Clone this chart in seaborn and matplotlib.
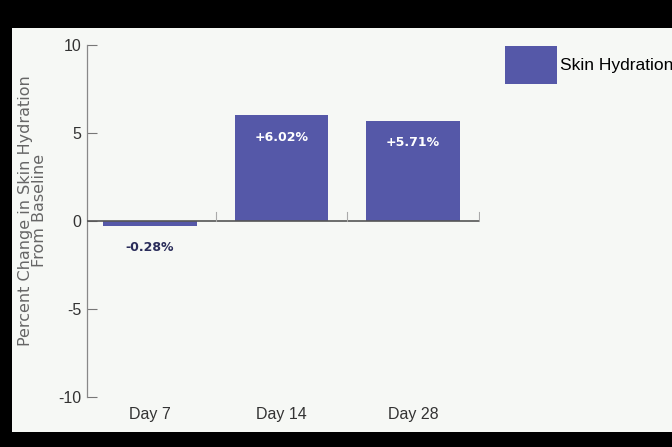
import matplotlib
matplotlib.use("Agg")
import matplotlib.pyplot as plt
import seaborn as sns
import pandas as pd
from matplotlib.patches import Rectangle, Patch

days = ["Day 7", "Day 14", "Day 28"]
values = [-0.28, 6.02, 5.71]
value_labels = ["-0.28%", "+6.02%", "+5.71%"]
series_name = "Skin Hydration"
yticks = [-10, -5, 0, 5, 10]

bar_color = "#5558A8"
bg = "#F6F8F5"
font = ["Liberation Sans Narrow", "Liberation Sans", "DejaVu Sans"]
plt.rcParams["font.family"] = font

df = pd.DataFrame({"day": days, "value": values, "series": series_name})

W, H = 672, 447
fig = plt.figure(figsize=(W / 100, H / 100), dpi=100, facecolor="black")
bg_ax = fig.add_axes([12 / W, 15 / H, 1, (419 - 15) / H], zorder=-10)
bg_ax.set_axis_off()
bg_ax.add_patch(Rectangle((0, 0), 1, 1, transform=bg_ax.transAxes, facecolor=bg, edgecolor="none"))

ax = fig.add_axes([87 / W, 50 / H, (480 - 87) / W, (402 - 50) / H])
ax.set_facecolor("none")
sns.barplot(data=df, x="day", y="value", color=bar_color, width=0.71, ax=ax,
            saturation=1, legend=False)

ax.set_xlim(-0.48, 2.51)
ax.set_ylim(-10, 10)
ax.set_yticks(yticks)
ax.set_yticklabels([str(t) for t in yticks], fontsize=11.5, color="#333333")
ax.tick_params(axis="y", direction="in", length=7, width=0.8, color="#777777", pad=4)
ax.tick_params(axis="x", length=0, pad=7, labelsize=11.5, labelcolor="#333333")
ax.set_xlabel("")
ax.set_ylabel("Percent Change in Skin Hydration\nFrom Baseline", fontsize=11.5,
              color="#666666", labelpad=8, linespacing=0.9, family="DejaVu Sans",
              y=0.53)

for s in ["top", "right", "bottom"]:
    ax.spines[s].set_visible(False)
ax.spines["left"].set_color("#888888")
ax.spines["left"].set_linewidth(0.9)

ax.axhline(0, color="#555555", lw=1.2, zorder=3)
for b in [0.5, 1.5, 2.5]:
    ax.plot([b, b], [0, 0.5], color="#aaaaaa", lw=0.8, zorder=3)

for i, (v, lab) in enumerate(zip(values, value_labels)):
    if v >= 0:
        ax.text(i, v - 0.9, lab, ha="center", va="top", color="white",
                fontsize=9, fontweight="bold", family="DejaVu Sans")
    else:
        ax.text(i, v - 0.85, lab, ha="center", va="top", color="#2a2d5a",
                fontsize=9, fontweight="bold", family="DejaVu Sans")

handle = Patch(facecolor=bar_color, edgecolor="none")
fig.legend([handle], [series_name], loc="upper left",
           bbox_to_anchor=(498 / W, 1 - 39 / H), frameon=False,
           handlelength=3.0, handleheight=3.0, handletextpad=0.2,
           fontsize=12.5, borderaxespad=0)

fig.savefig("out.png", dpi=100, facecolor="black")
